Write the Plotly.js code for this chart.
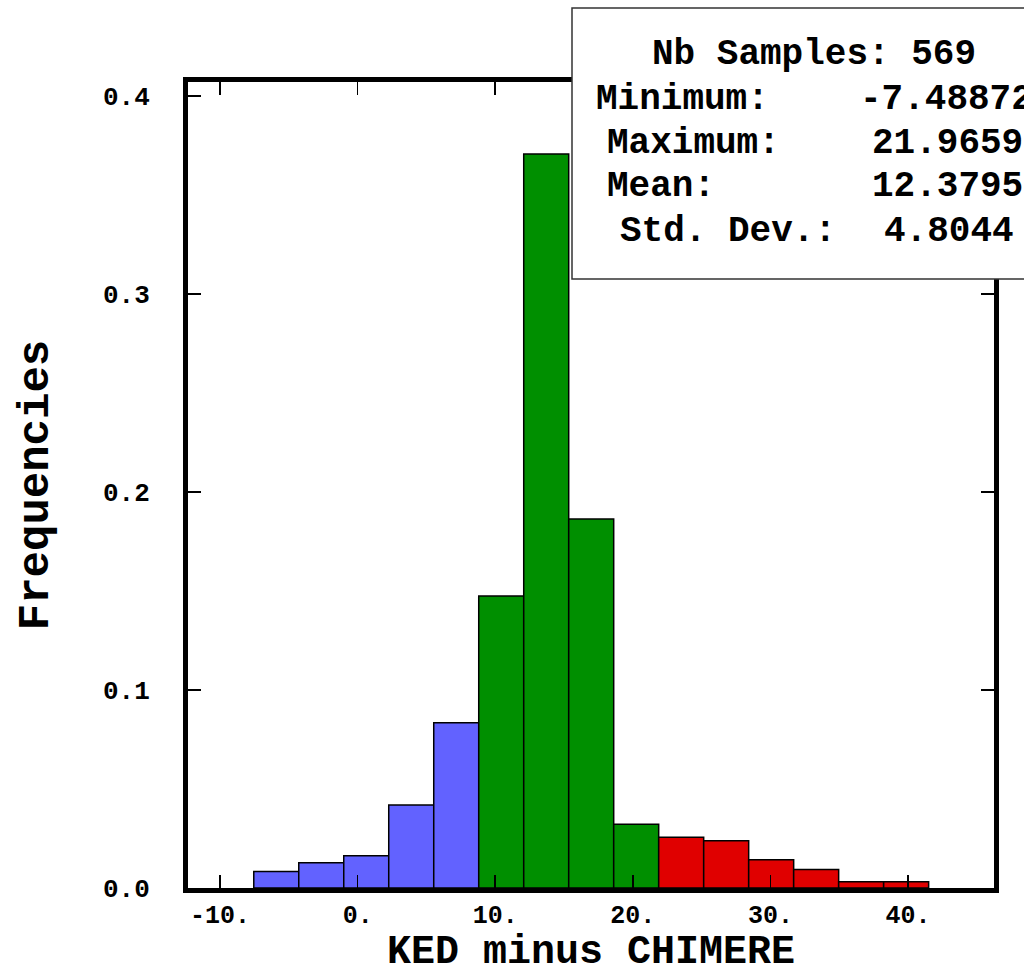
<!DOCTYPE html>
<html>
<head>
<meta charset="utf-8">
<script src="https://cdn.plot.ly/plotly-3.0.1.min.js"></script>
<style>html,body{margin:0;padding:0;background:#fff;}#chart{width:1024px;height:972px;}</style>
</head>
<body>
<div id="chart"></div>
<script>
// Histogram bin edges (KED minus CHIMERE)
var binEdges = [-7.55, -4.28, -1.01, 2.26, 5.53, 8.80, 12.07, 15.34, 18.61, 21.88, 25.15, 28.42, 31.69, 34.96, 38.23, 41.50];
// Frequencies per bin
var frequencies = [0.0083, 0.0128, 0.0163, 0.0419, 0.0835, 0.1475, 0.3707, 0.1864, 0.0322, 0.0256, 0.0239, 0.0143, 0.0094, 0.0032, 0.0032];
// Colour group per bin
var binGroup = ['low','low','low','low','low','mid','mid','mid','mid','high','high','high','high','high','high'];
var groupColors = {low: '#6262ff', mid: '#008f00', high: '#e00000'};
var xTickVals = [-10, 0, 10, 20, 30, 40];
var xTickText = ['-10.', '0.', '10.', '20.', '30.', '40.'];
var yTickVals = [0, 0.1, 0.2, 0.3, 0.4];
var yTickText = ['0.0', '0.1', '0.2', '0.3', '0.4'];
var xTitle = 'KED minus CHIMERE';
var yTitle = 'Frequencies';
var statLabels = ['Minimum:', 'Maximum:', 'Mean:', 'Std. Dev.:'];
var statValues = ['-7.48872', '21.9659', '12.3795', '4.8044'];
var nbSamples = 569;

var centers = [], widths = [], colors = [];
for (var i = 0; i < frequencies.length; i++) {
  centers.push((binEdges[i] + binEdges[i+1]) / 2);
  widths.push(binEdges[i+1] - binEdges[i]);
  colors.push(groupColors[binGroup[i]]);
}

var trace = {
  type: 'bar',
  x: centers,
  y: frequencies,
  width: widths,
  marker: {color: colors, line: {color: '#000', width: 1.5}},
  hoverinfo: 'x+y'
};

var W = 1024, H = 972;
var mL = 188, mR = 30, mT = 82, mB = 84;
var pw = W - mL - mR, ph = H - mT - mB;
function px(x) { return (x - mL) / pw; }
function py(y) { return (H - mB - y) / ph; }

var FONT = '"Liberation Mono", "DejaVu Sans Mono", monospace';
var statFont = {family: FONT, size: 36, color: '#000', weight: 'bold'};

var annotations = [
  {text: 'Nb Samples: ' + nbSamples, x: px(650), y: py(55), xref: 'paper', yref: 'paper', xanchor: 'left', yanchor: 'middle', showarrow: false, font: statFont},
  {text: xTitle, x: 0.5, y: py(953), xref: 'paper', yref: 'paper', xanchor: 'center', yanchor: 'middle', showarrow: false,
   font: {family: FONT, size: 40, color: '#000', weight: 'bold'}}
];
var labelX = [594, 605, 605, 618];
var valueX = [858, 870, 870, 882];
var lineY = [100, 143, 187, 231];
for (var k = 0; k < statLabels.length; k++) {
  annotations.push({text: statLabels[k], x: px(labelX[k]), y: py(lineY[k]), xref: 'paper', yref: 'paper', xanchor: 'left', yanchor: 'middle', showarrow: false, font: statFont});
  annotations.push({text: statValues[k], x: px(valueX[k]), y: py(lineY[k]), xref: 'paper', yref: 'paper', xanchor: 'left', yanchor: 'middle', showarrow: false, font: statFont});
}

var layout = {
  width: W, height: H,
  margin: {l: mL, r: mR, t: mT, b: mB, pad: 0},
  paper_bgcolor: '#fff', plot_bgcolor: '#fff',
  showlegend: false,
  bargap: 0,
  xaxis: {
    range: [-12.33, 46.25],
    tickmode: 'array', tickvals: xTickVals, ticktext: xTickText,
    ticks: 'inside', ticklen: 13, tickwidth: 1.5, tickcolor: '#000',
    showline: true, linewidth: 5, linecolor: '#000', mirror: 'ticks',
    showgrid: false, zeroline: false,
    tickfont: {family: FONT, size: 25, color: '#000', weight: 'bold'}
  },
  yaxis: {
    range: [0, 0.4071],
    tickmode: 'array', tickvals: yTickVals, ticktext: yTickText,
    ticks: 'inside', ticklen: 13, tickwidth: 1.5, tickcolor: '#000',
    showline: true, linewidth: 5, linecolor: '#000', mirror: 'ticks',
    showgrid: false, zeroline: false,
    tickfont: {family: FONT, size: 26, color: '#000', weight: 'bold'},
    ticklabelstandoff: 28,
    title: {text: yTitle, font: {family: FONT, size: 44, color: '#000', weight: 'bold'}, standoff: 42}
  },
  shapes: [
    {type: 'rect', xref: 'paper', yref: 'paper', x0: px(572), x1: px(1060), y0: py(279), y1: py(8),
     line: {color: '#333', width: 1.5}, fillcolor: '#fff', layer: 'above'}
  ],
  annotations: annotations
};

Plotly.newPlot('chart', [trace], layout, {displayModeBar: false, staticPlot: true});
</script>
</body>
</html>
